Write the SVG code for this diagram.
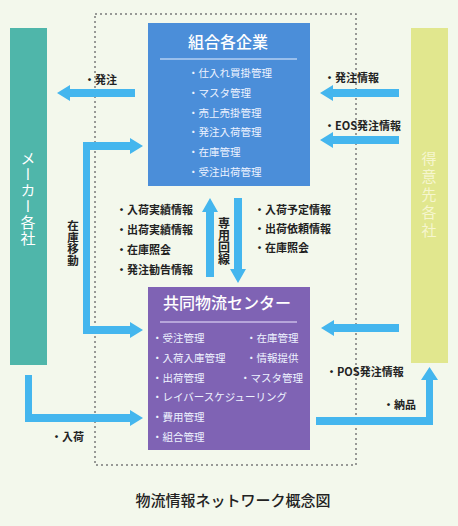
<svg xmlns="http://www.w3.org/2000/svg" width="458" height="526" viewBox="0 0 458 526">
<style>
text{font-family:"Noto Sans CJK JP","Noto Sans",sans-serif;}
.lbl{font-size:11px;fill:#222;font-weight:bold;}
.item{font-size:10.5px;fill:#eef3ff;}
.title{font-size:16px;fill:#ffffff;text-anchor:middle;font-weight:500;}
.vert{writing-mode:vertical-rl;text-anchor:middle;}
.arrow{fill:#44b6ee;}
</style>
<rect x="0" y="0" width="458" height="526" fill="#f3f8ec"/>
<rect x="95" y="14" width="261" height="451" fill="none" stroke="#7a7a7a" stroke-width="1.5" stroke-dasharray="2,3"/>

<g id="maker">
<rect x="10" y="28" width="37" height="337" fill="#4fb6aa"/>
<text class="vert" x="28" y="199" style="font-size:15px;fill:#fff;letter-spacing:1px">メーカー各社</text>
</g>

<g id="customer">
<rect x="411" y="28" width="37" height="335" fill="#e1e78e"/>
<text class="vert" x="429" y="196" style="font-size:15px;fill:#f6f6cf;letter-spacing:3px">得意先各社</text>
</g>

<g id="kumiai">
<rect x="148" y="23" width="162" height="163" fill="#4b8ed9"/>
<text class="title" x="228" y="48">組合各企業</text>
<line x1="160" y1="59" x2="297" y2="59" stroke="#e8f0ff" stroke-width="1"/>
<text class="item" x="188" y="77">・仕入れ買掛管理</text>
<text class="item" x="188" y="97">・マスタ管理</text>
<text class="item" x="188" y="117">・売上売掛管理</text>
<text class="item" x="188" y="136">・発注入荷管理</text>
<text class="item" x="188" y="156">・在庫管理</text>
<text class="item" x="188" y="176">・受注出荷管理</text>
</g>

<g id="center">
<rect x="148" y="287" width="162" height="163" fill="#7f63b4"/>
<text class="title" x="227" y="309">共同物流センター</text>
<line x1="160" y1="322" x2="297" y2="322" stroke="#eee8ff" stroke-width="1"/>
<text class="item" x="152" y="342">・受注管理</text>
<text class="item" x="152" y="362">・入荷入庫管理</text>
<text class="item" x="152" y="382">・出荷管理</text>
<text class="item" x="152" y="401">・レイバースケジューリング</text>
<text class="item" x="152" y="421">・費用管理</text>
<text class="item" x="152" y="441">・組合管理</text>
<text class="item" x="246" y="342">・在庫管理</text>
<text class="item" x="246" y="362">・情報提供</text>
<text class="item" x="240" y="382">・マスタ管理</text>
</g>

<g id="connectors">
<path class="arrow" d="M135,89 H70 V85 L57,93 L70,101 V97 H135 Z"/>
<path class="arrow" d="M399,89 H333 V85 L320,93 L333,101 V97 H399 Z"/>
<path class="arrow" d="M399,136 H333 V132 L320,140 L333,148 V144 H399 Z"/>
<path class="arrow" d="M399,324 H334 V320 L321,328 L334,336 V332 H399 Z"/>
<path class="arrow" d="M83,142 H130 V138 L143,146 L130,154 V150 H90 V326 H130 V322 L143,330 L130,338 V334 H83 Z"/>
<path class="arrow" d="M25,375 H32 V414 H130 V410 L143,418 L130,426 V422 H25 Z"/>
<path class="arrow" d="M316,417 H426 V380 H421 L429.5,367 L438,380 H433 V425 H316 Z"/>
<path class="arrow" d="M206,277 V212 H202 L210,198 L218,212 H214 V277 Z"/>
<path class="arrow" d="M234,198 H242 V269 H246 L238,283 L230,269 H234 Z"/>
</g>

<g id="labels">
<text class="lbl" x="84" y="84">・発注</text>
<text class="lbl" x="324" y="82">・発注情報</text>
<text class="lbl" x="324" y="130">・EOS発注情報</text>
<text class="lbl" x="326" y="376">・POS発注情報</text>
<text class="lbl" x="383" y="409">・納品</text>
<text class="lbl" x="51" y="441">・入荷</text>
<text class="lbl vert" x="73" y="243" style="font-size:11.5px">在庫移動</text>
<text class="lbl vert" x="224" y="241" style="font-size:12px">専用回線</text>
<text class="lbl" x="116" y="214">・入荷実績情報</text>
<text class="lbl" x="116" y="234">・出荷実績情報</text>
<text class="lbl" x="116" y="254">・在庫照会</text>
<text class="lbl" x="116" y="274">・発注勧告情報</text>
<text class="lbl" x="254" y="214">・入荷予定情報</text>
<text class="lbl" x="254" y="233">・出荷依頼情報</text>
<text class="lbl" x="254" y="252">・在庫照会</text>
<text x="233" y="506" style="font-size:15px;fill:#222;text-anchor:middle;font-weight:500">物流情報ネットワーク概念図</text>
</g>
</svg>
